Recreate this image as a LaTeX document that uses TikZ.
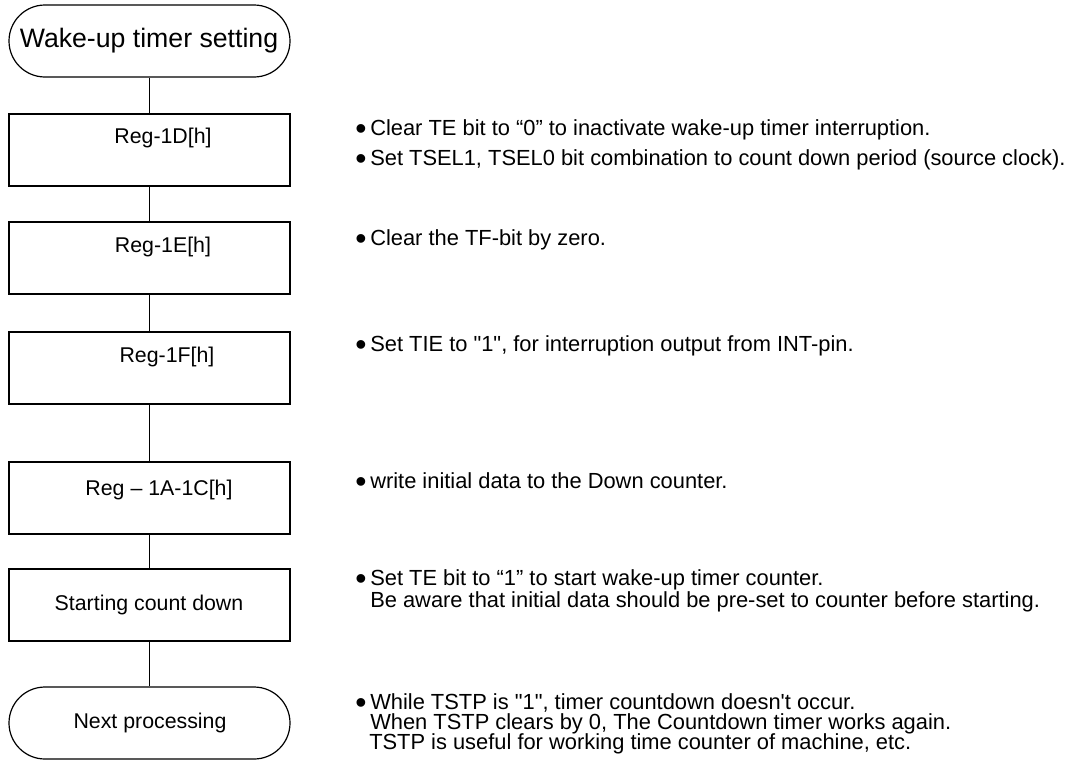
\documentclass[tikz,border=0pt]{standalone}
\usepackage{fontspec}
\setmainfont{Liberation Sans}
\newcommand{\bulletmark}{\makebox[11.25pt][l]{\smash{\raisebox{-3pt}{\fontsize{24}{24}\selectfont •}}}}
\begin{document}
\begin{tikzpicture}[x=0.75pt,y=-0.75pt,
  box/.style={draw, line width=0.9pt, minimum width=210.75pt, minimum height=54pt, inner sep=0pt},
  term/.style={box, rounded corners=27pt},
  lbl/.style={font=\fontsize{16}{19}\selectfont, inner sep=0pt},
  bigl/.style={font=\fontsize{20}{24}\selectfont, inner sep=0pt},
  txt/.style={font=\fontsize{16.4}{19}\selectfont, inner sep=0pt, anchor=base west},
  conn/.style={line width=0.9pt}]
\useasboundingbox (0,0) rectangle (1066,760);
% flow boxes
\node[term] (start) at (149.5,41) {};
\node[box] (b1) at (149.5,150) {};
\node[box] (b2) at (149.5,258) {};
\node[box] (b3) at (149.5,368) {};
\node[box] (b4) at (149.5,498) {};
\node[box] (b5) at (149.5,605) {};
\node[term] (end) at (149.5,723) {};
% labels
\node[bigl] (tstart) at (149,41) {Wake-up timer setting};
\node[lbl] (l1) at (163,138) {Reg-1D[h]};
\node[lbl] (l2) at (163,247) {Reg-1E[h]};
\node[lbl] (l3) at (167,357) {Reg-1F[h]};
\node[lbl] (l4) at (159,490) {Reg – 1A-1C[h]};
\node[lbl] (l5) at (149,605) {Starting count down};
\node[lbl] (tend) at (150,723) {Next processing};
% connectors
\draw[conn] (start.south) -- (b1.north);
\draw[conn] (b1.south) -- (b2.north);
\draw[conn] (b2.south) -- (b3.north);
\draw[conn] (b3.south) -- (b4.north);
\draw[conn] (b4.south) -- (b5.north);
\draw[conn] (b5.south) -- (end.north);
% notes
\node[txt] (n1a) at (355,135) {\bulletmark Clear TE bit to “0” to inactivate wake-up timer interruption.};
\node[txt] (n1b) at (355,165) {\bulletmark Set TSEL1, TSEL0 bit combination to count down period (source clock).};
\node[txt] (n2) at (355,245) {\bulletmark Clear the TF-bit by zero.};
\node[txt] (n3) at (355,351) {\bulletmark Set TIE to \textquotedbl 1\textquotedbl, for interruption output from INT-pin.};
\node[txt] (n4) at (355,488) {\bulletmark write initial data to the Down counter.};
\node[txt] (n5a) at (355,585) {\bulletmark Set TE bit to “1” to start wake-up timer counter.};
\node[txt] (n5b) at (370,607) {Be aware that initial data should be pre-set to counter before starting.};
\node[txt] (n6a) at (355,709) {\bulletmark While TSTP is \textquotedbl 1\textquotedbl, timer countdown doesn\textquotesingle t occur.};
\node[txt] (n6b) at (370,729) {When TSTP clears by 0, The Countdown timer works again.};
\node[txt] (n6c) at (369,749) {TSTP is useful for working time counter of machine, etc.};
\end{tikzpicture}
\end{document}
